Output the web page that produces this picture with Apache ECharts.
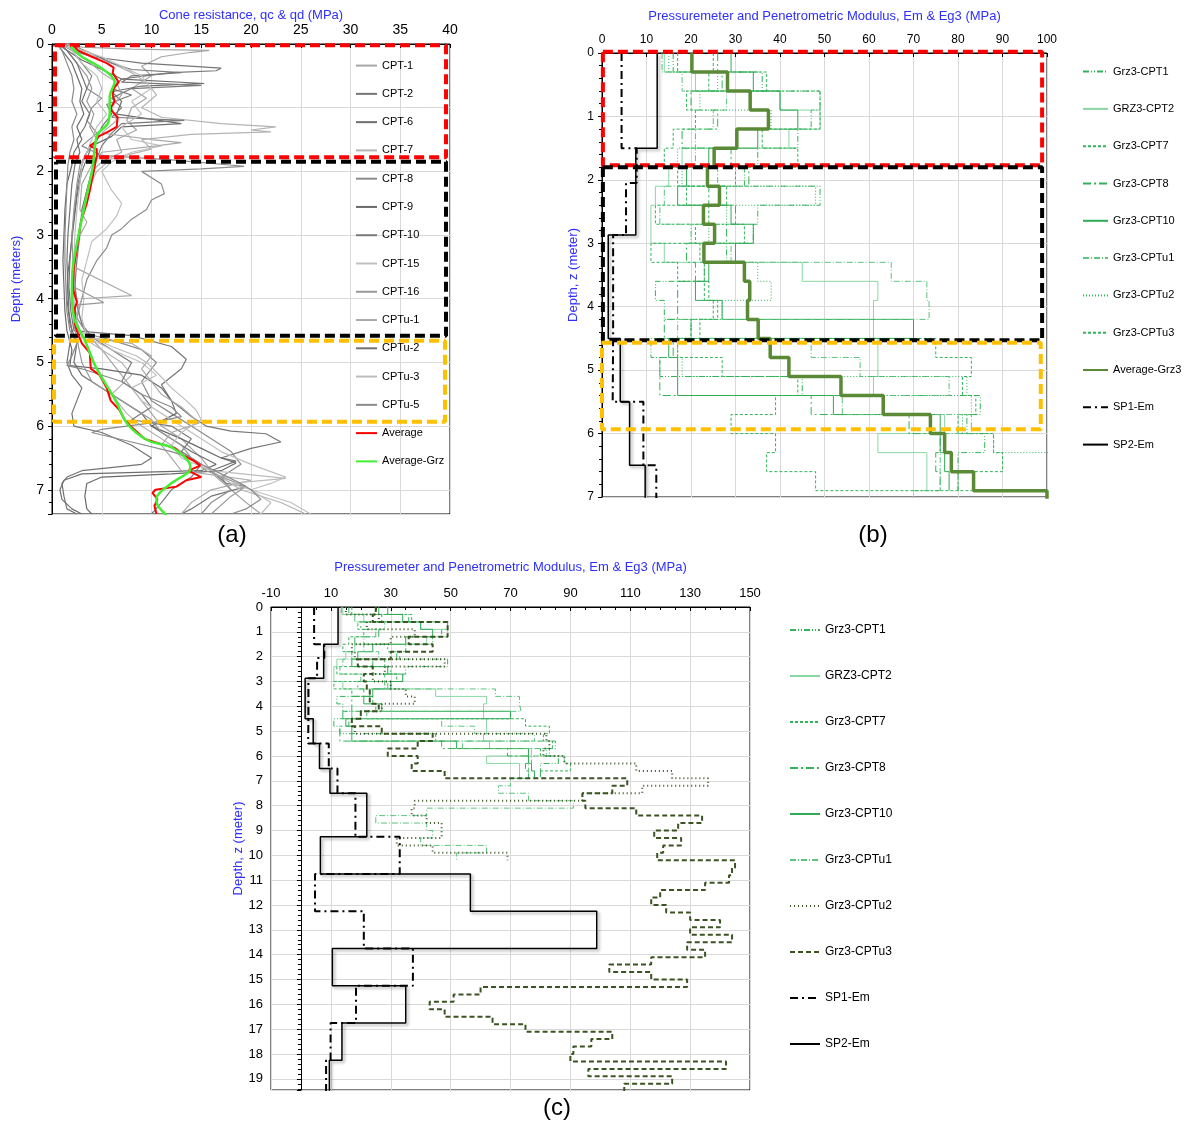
<!DOCTYPE html>
<html>
<head>
<meta charset="utf-8">
<title>CPT and pressuremeter profiles</title>
<script src="https://cdn.jsdelivr.net/npm/echarts@6/dist/echarts.min.js"></script>
<style>
  html, body { margin: 0; padding: 0; background: #fff; }
  #chart { width: 1188px; height: 1124px; }
</style>
</head>
<body>
<div id="chart"></div>
<script>
// ---- (a) cone resistance profiles, [qc MPa, depth m] ----
var cpt1  = [[1,0],[3,0.05],[8,0.08],[15.8,0.1],[14,0.13],[11,0.2],[9,0.35],[10,0.5],[8,0.7],[9.5,0.85],[8,1.0],[7.5,1.2],[8.5,1.35],[6.5,1.5],[7,1.7],[5,1.85],[4,2.0],[3.5,2.3],[3,2.7],[2.5,3.1],[2.2,3.5],[2.4,3.9],[2.8,4.3],[3.5,4.55],[5,4.8],[6.5,5.1],[8,5.4],[9.5,5.7],[11,6.0],[13,6.2],[15,6.5],[16.5,6.8],[18,7.0],[19.5,7.2],[21,7.38]];
var cpt2  = [[1,0],[2,0.1],[4,0.2],[9,0.3],[17,0.38],[16.5,0.42],[12,0.45],[7,0.55],[6,0.7],[8,0.8],[5.5,0.95],[6,1.1],[5,1.3],[4.5,1.5],[3.5,1.7],[3,1.9],[2.6,2.2],[2.3,2.6],[2,3.0],[1.8,3.4],[1.7,3.8],[1.9,4.2],[2.2,4.5],[8,4.58],[12,4.75],[13.5,4.95],[13,5.1],[11,5.35],[12,5.6],[14,5.85],[15.5,6.0],[18,6.08],[21.5,6.12],[23,6.25],[20,6.35],[17,6.5],[18.5,6.55],[16,6.7],[17.5,6.9],[19.5,6.95],[16,7.1],[14,7.3],[13,7.38]];
var cpt6  = [[0.5,0],[1.5,0.1],[3,0.25],[5,0.4],[7,0.55],[15.3,0.62],[9,0.66],[6,0.75],[7,0.9],[6.5,1.1],[13,1.25],[7,1.3],[6,1.45],[4,1.6],[3.5,1.8],[3,2.0],[2.5,2.4],[2.2,2.8],[1.9,3.2],[1.6,3.6],[1.5,4.0],[1.8,4.4],[2.5,4.7],[2.2,5.0],[3,5.2],[5,5.4],[7,5.6],[9,5.8],[10,6.0],[12,6.2],[14,6.4],[16.5,6.6],[15,6.7],[3,6.75],[1.2,6.85],[0.8,7.0],[1,7.15],[2,7.3],[3,7.38]];
var cpt7  = [[1,0],[2.5,0.1],[4.5,0.2],[6,0.3],[8,0.45],[9.5,0.6],[10.5,0.8],[9,1.0],[11,1.15],[17,1.25],[22.5,1.3],[20,1.35],[22,1.38],[14,1.42],[9,1.5],[10,1.65],[6,1.8],[4.5,2.0],[3.5,2.3],[3,2.7],[2.6,3.1],[2.3,3.5],[2.1,3.9],[2.4,4.3],[3,4.6],[5,4.8],[7,5.0],[8,5.2],[6,5.5],[7.5,5.8],[9,6.0],[11,6.2],[13,6.4],[15,6.6],[17,6.8],[19,7.0],[23,7.2],[25.5,7.38]];
var cpt8  = [[0.8,0],[2,0.1],[3,0.3],[4,0.5],[3.5,0.7],[5,0.85],[4,1.0],[3.5,1.2],[4.5,1.4],[3,1.6],[5,1.75],[12,1.82],[19.3,1.92],[15,1.96],[9,2.0],[11,2.2],[11.3,2.35],[10,2.45],[9.5,2.6],[8,2.75],[7,2.9],[6,3.0],[5.5,3.2],[4.5,3.4],[3.5,3.7],[3,4.0],[2.5,4.3],[3.5,4.55],[6,4.65],[9,4.8],[10.5,5.0],[9,5.3],[10,5.6],[12,5.8],[14,6.0],[16,6.2],[18,6.4],[19,6.6],[17,6.8],[18,7.0],[16,7.2],[15,7.38]];
var cpt9  = [[0.5,0],[1,0.1],[2,0.3],[2.5,0.5],[3,0.7],[2.8,0.9],[3.2,1.1],[2.5,1.3],[3,1.5],[2.2,1.7],[2,1.9],[1.5,2.2],[1.3,2.6],[1.2,3.0],[1.1,3.4],[1.2,3.8],[1.3,4.2],[1.5,4.5],[2,4.8],[1.8,5.05],[5,5.1],[9,5.2],[11,5.4],[12,5.6],[12.5,5.8],[10,6.0],[13,6.2],[15,6.35],[17,6.5],[18.5,6.58],[17,6.7],[12,6.75],[5,6.8],[3.5,6.9],[3.3,7.1],[3.5,7.3],[4,7.38]];
var cpt10 = [[1,0],[2.5,0.05],[4,0.15],[6,0.3],[8,0.4],[13,0.45],[8,0.5],[7,0.6],[15,0.65],[8,0.7],[6,0.85],[7,1.0],[6,1.15],[13.3,1.2],[7,1.25],[6,1.4],[5,1.6],[4.5,1.8],[4,2.0],[3.5,2.3],[3,2.6],[2.8,3.0],[2.5,3.4],[2.3,3.8],[2.5,4.1],[3,4.4],[4,4.6],[6,4.8],[8,5.0],[7,5.3],[9,5.5],[10,5.7],[8,5.9],[12,6.0],[14,6.2],[13,6.4],[15,6.6],[14,6.8],[12,7.0],[11,7.2],[10,7.38]];
var cpt15 = [[1.5,0],[3,0.1],[5,0.2],[7,0.35],[9,0.5],[10,0.7],[8,0.9],[9,1.1],[7,1.3],[8,1.5],[11,1.6],[8,1.7],[6,1.85],[5,2.0],[6,2.3],[7,2.5],[6.5,2.7],[5.5,2.9],[4,3.1],[3.5,3.4],[3,3.7],[3.2,4.0],[3,4.3],[3.5,4.6],[6,4.8],[9,5.0],[10.5,5.2],[8,5.4],[9,5.6],[11,5.8],[13,6.0],[15,6.2],[17,6.4],[20,6.6],[23.5,6.8],[22,6.9],[20,7.0],[24,7.2],[26,7.38]];
var cpt16 = [[0.5,0],[1.5,0.1],[2.5,0.3],[3.5,0.5],[4,0.7],[3.5,0.9],[4.2,1.1],[3.8,1.3],[4.5,1.5],[3.5,1.7],[2.8,1.9],[2.5,2.2],[2.2,2.6],[2,3.0],[2.1,3.4],[2,3.8],[5.2,4.06],[2.3,4.1],[2.2,4.4],[2.6,4.7],[3,5.0],[4,5.3],[6,5.5],[8,5.7],[10,5.9],[11,6.1],[13,6.3],[14,6.5],[15.5,6.7],[19.5,6.95],[18,7.1],[16,7.38]];
var cptu1 = [[1,0],[2,0.1],[3.5,0.25],[5,0.45],[6.5,0.6],[7,0.8],[6,1.0],[6.5,1.2],[5,1.4],[10,1.5],[13,1.55],[10.5,1.6],[5,1.7],[4,1.9],[3,2.2],[2.8,2.6],[3.5,2.8],[2.5,3.1],[2.2,3.5],[8,3.95],[3,4.0],[2.3,4.3],[3,4.6],[8,4.7],[10,4.9],[9,5.1],[10,5.3],[11,5.5],[13,5.7],[14.8,5.95],[12,6.1],[11,6.3],[12,6.5],[13,6.7],[20,6.85],[16,7.0],[14,7.2],[13,7.38]];
var cptu2 = [[0.8,0],[1.5,0.1],[2.5,0.3],[3,0.5],[3.5,0.7],[3,0.9],[3.8,1.1],[3.3,1.3],[2.5,1.5],[2.8,1.7],[2.3,1.9],[2,2.2],[1.8,2.6],[1.6,3.0],[1.5,3.4],[1.6,3.8],[1.7,4.2],[2,4.5],[1.7,4.8],[1.5,5.0],[2,5.2],[3,5.4],[2.5,5.6],[2,5.8],[2.2,6.0],[5,6.1],[8,6.3],[10,6.5],[9,6.6],[3,6.7],[1.5,6.8],[1,6.9],[1.2,7.1],[1.5,7.3],[2.5,7.38]];
var cptu3 = [[1,0],[2,0.1],[3,0.3],[4.5,0.5],[5,0.7],[4.5,0.9],[5.5,1.1],[4.5,1.3],[4,1.5],[3.5,1.7],[3,1.9],[2.8,2.2],[2.5,2.6],[2.3,3.0],[2.2,3.4],[2.1,3.8],[2.2,4.2],[2.6,4.5],[4,4.6],[6,4.75],[8.5,4.9],[9.5,5.0],[10.5,5.15],[12,5.4],[13.5,5.6],[14.5,5.75],[15,5.9],[13,6.1],[12,6.3],[13,6.5],[16,6.7],[23.5,6.82],[18,6.9],[20,7.0],[22,7.2],[21,7.38]];
var cptu5 = [[0.5,0],[1,0.1],[1.5,0.3],[2,0.5],[2.2,0.7],[2,0.9],[2.5,1.1],[2,1.3],[2.2,1.5],[1.8,1.7],[1.6,1.9],[1.5,2.2],[1.4,2.6],[1.3,3.0],[1.3,3.4],[1.4,3.8],[1.5,4.2],[1.8,4.5],[2.5,4.7],[2,4.9],[1.5,5.05],[3,5.1],[7,5.3],[9,5.5],[12,5.7],[13,5.85],[10,5.95],[5,6.05],[4,6.1],[8,6.25],[12,6.4],[14,6.5],[15,6.6],[17,6.75],[19,6.9],[20,7.0],[21,7.15],[19.5,7.3],[18,7.38]];
var averageA = [[2,0],[2.6,0.1],[4,0.2],[5.5,0.3],[6.2,0.37],[6.1,0.45],[6.7,0.6],[6.2,0.7],[6.1,0.8],[6.3,0.9],[5.9,1.0],[6.0,1.05],[6.6,1.15],[6.5,1.3],[5.6,1.38],[4.7,1.45],[4.3,1.55],[3.8,1.6],[4.5,1.65],[4.5,1.75],[4.2,2.0],[3.8,2.3],[3.5,2.5],[2.9,2.8],[2.7,3.0],[2.4,3.3],[2.2,3.5],[2.1,3.8],[2.2,3.9],[2.5,4.05],[2.3,4.15],[2.3,4.4],[2.5,4.5],[3.0,4.7],[3.8,4.85],[3.9,5.1],[4.8,5.2],[5.5,5.4],[5.9,5.6],[6.8,5.75],[7.3,5.9],[7.9,6.0],[9.3,6.2],[12.4,6.35],[13.1,6.45],[14.3,6.55],[14.9,6.62],[13.7,6.7],[15.0,6.8],[13.5,6.85],[12.5,6.95],[10.4,7.0],[10.1,7.05],[10.6,7.15],[10.3,7.25],[10.5,7.38]];
var averageGrz = [[1.9,0.04],[3,0.2],[4.8,0.36],[6.3,0.59],[5.8,0.83],[5.8,1.04],[5.6,1.25],[4.6,1.41],[4.3,1.62],[4.1,1.93],[3.4,2.45],[2.7,2.98],[2.1,3.5],[2.0,3.92],[2.3,4.34],[3.3,4.65],[4.4,5.07],[6.4,5.6],[7.6,5.97],[9.7,6.23],[12.1,6.34],[13.9,6.63],[13.8,6.71],[11.8,6.92],[10.5,7.13],[10.6,7.24],[11.5,7.4]];

var namesA = ['CPT-1','CPT-2','CPT-6','CPT-7','CPT-8','CPT-9','CPT-10','CPT-15','CPT-16','CPTu-1','CPTu-2','CPTu-3','CPTu-5'];
var greysA = ['#a6a6a6','#767676','#6e6e6e','#b4b4b4','#8c8c8c','#6a6a6a','#7a7a7a','#c0c0c0','#999999','#aaaaaa','#737373','#bdbdbd','#8a8a8a'];
var profilesA = [cpt1, cpt2, cpt6, cpt7, cpt8, cpt9, cpt10, cpt15, cpt16, cptu1, cptu2, cptu3, cptu5];

// layer boxes: [x0, x1, depth top, depth bottom]
var boxesA = [[0.3, 39.6, 0.02, 1.78], [0.4, 39.6, 1.85, 4.58], [0.2, 39.5, 4.66, 5.93]];
var boxesB = [[0.2, 98.9, -0.02, 1.77], [0.2, 98.9, 1.8, 4.53], [0, 98.6, 4.57, 5.93]];
var boxColors = ['#ff0000', '#000000', '#ffc000'];

// ---- (b) and (c) moduli, one value per 0.3 m layer ----
var DEPTHS = [0,0.3,0.6,0.9,1.2,1.5,1.8,2.1,2.4,2.7,3.0,3.3,3.6,3.9,4.2,4.5,4.8,5.1,5.4,5.7,6.0,6.3,6.6,6.9,7.2,7.5,7.8,8.1,8.4,8.7,9.0,9.3,9.6,9.9,10.2,10.5,10.8,11.1,11.4,11.7,12.0,12.3,12.6,12.9,13.2,13.5,13.8,14.1,14.4,14.7,15.0,15.3,15.6,15.9,16.2,16.5,16.8,17.1,17.4,17.7,18.0,18.3,18.6,18.9,19.2,19.5];
var grzCPT1  = [16,36,49,47,44,35,32,49,35,34,28,23,12,14,20,11,13,45,85,82,86,80,80];
var grzCPT2  = [14,21,40,49,42,18,15,12,11,11,14,45,62,61,61,62,62,61,63,77,62,73,73];
var grzCPT7  = [17,37,19,21,16,14,17,28,12,32,11,17,24,25,22,75,83,81,84,80,88,90,80];
var grzCPT8  = [26,27,20,26,18,29,33,24,30,28,19,21,17,17,14,16,13,13,47,69,76,75,76];
var grzCPT10 = [29,34,40,44,35,24,19,17,29,34,30,24,21,27,70,15,17,17,52,76,76,77,78];
var grzCPTu1 = [13.5,18,28,25,21,21,26,14,13,20,29,65,73,73.5,17,47,58,78,54,83,77,76,76,70,66,76,91,42,25,42,44,40,62,52];
var grzCPTu2 = [15,26,22,38,30,17,18,48,28,24,30,35,38,27,20,17,18,82,83,81,88,112,124,136,114,94,38,37,42,47,47,32,44,69];
var grzCPTu3 = [25,24,49,49,36,44,30,19,24,21,22,23,23,26,20,17,27,44,39,29,39,37,48,109,104,94,95,112,134,126,118,127,121,119,145,144,143,135,120,117,122,130,140,130,144,129,135,117,103,117,129,60,51,43,48,64,75,104,97,91,90,142,96,124,108];
var avgGrz3  = [20.2,28.2,33.3,37.4,30.3,25.2,23.7,26.4,22.8,25.3,22.9,32.0,33.2,32.7,35.1,37.8,42.0,53.7,63.2,73.8,77.0,78.5,83.5,100];

var SP_DEPTHS = [0,1.5,2.05,2.87,4.5,5.5,6.5,7.5,9.25,10.75,12.25,13.75,15.25,16.75,18.25,19.5];
var sp1Em = [4.4,7.8,5.4,2.5,2.4,9.3,12.2,18.2,33,4.7,21,37.4,18.4,9.9,8.4];
var sp2Em = [12.4,7.6,7.6,1.4,4.1,6.2,9.7,22,6.5,56.6,98.8,10.5,35,13.7,9.5];

var FONT = 'Liberation Sans, Arial, sans-serif';
var BLUE = '#2f2fff';
var GREEN = '#33b35a';
var DARK = '#3b5323';

function stepPoints(depths, values) {
    var pts = [];
    for (var i = 0; i < values.length; i++) {
        pts.push([values[i], depths[i]], [values[i], depths[i + 1]]);
    }
    return pts;
}

function boxPoints(b) {
    return [[b[0], b[2]], [b[1], b[2]], [b[1], b[3]], [b[0], b[3]], [b[0], b[2]]];
}

function line(name, idx, data, color, width, type, z, extra) {
    var s = {
        name: name, type: 'line', xAxisIndex: idx, yAxisIndex: idx,
        data: data, symbol: 'none', showSymbol: false, z: z || 2,
        lineStyle: { color: color, width: width, type: type || 'solid' },
        itemStyle: { color: color }
    };
    if (extra) { for (var k in extra) { s[k] = extra[k]; } }
    return s;
}

var grzStyles = [
    ['Grz3-CPT1',  grzCPT1,  GREEN,     [6, 2, 1, 2, 1, 2]],
    ['GRZ3-CPT2',  grzCPT2,  '#8ad7a4', 'solid'],
    ['Grz3-CPT7',  grzCPT7,  GREEN,     [3, 2]],
    ['Grz3-CPT8',  grzCPT8,  GREEN,     [8, 3, 2, 3]],
    ['Grz3-CPT10', grzCPT10, '#2faa55', 'solid'],
    ['Grz3-CPTu1', grzCPTu1, '#5cc47f', [6, 2, 1, 2]],
    ['Grz3-CPTu2', grzCPTu2, GREEN,     [1, 2]],
    ['Grz3-CPTu3', grzCPTu3, GREEN,     [3, 2]]
];

var spShadow = { color: '#000', width: 1.5, shadowBlur: 3, shadowColor: 'rgba(0,0,0,0.35)', shadowOffsetX: 2, shadowOffsetY: 2 };

var series = [];
// panel (a)
for (var i = 0; i < profilesA.length; i++) {
    series.push(line(namesA[i], 0, profilesA[i], greysA[i], 1.2, 'solid', 2));
}
series.push(line('Average', 0, averageA, '#ff0000', 2, 'solid', 4));
series.push(line('Average-Grz', 0, averageGrz, '#44ee33', 2.5, 'solid', 5, { smooth: 0.3 }));
boxesA.forEach(function (b, j) {
    series.push(line('boxA' + j, 0, boxPoints(b), boxColors[j], 4, [10, 5], 3, { clip: false, silent: true }));
});

// panel (b)
grzStyles.forEach(function (g) {
    series.push(line(g[0], 1, stepPoints(DEPTHS, g[1]), g[2], 1, g[3], 2));
});
series.push(line('Average-Grz3', 1, stepPoints(DEPTHS, avgGrz3), '#5a8a35', 3.5, 'solid', 4));
series.push(line('SP1-Em', 1, stepPoints(SP_DEPTHS, sp1Em), '#000', 2, [8, 4, 2, 4], 4));
series.push(line('SP2-Em', 1, stepPoints(SP_DEPTHS, sp2Em), '#000', 1.5, 'solid', 4, { lineStyle: spShadow }));
boxesB.forEach(function (b, j) {
    series.push(line('boxB' + j, 1, boxPoints(b), boxColors[j], 4, [10, 5], 5, { clip: false, silent: true }));
});

// panel (c): same series, names end with a space so the legends stay apart
grzStyles.forEach(function (g, j) {
    var col = g[2], w = 1, t = g[3];
    if (j === 6) { col = DARK; w = 2; t = [1, 3]; }
    if (j === 7) { col = DARK; w = 2; t = [5, 3]; }
    series.push(line(g[0] + ' ', 2, stepPoints(DEPTHS, g[1]), col, w, t, j >= 6 ? 3 : 2));
});
series.push(line('SP1-Em ', 2, stepPoints(SP_DEPTHS, sp1Em), '#000', 2, [8, 4, 2, 4], 4));
series.push(line('SP2-Em ', 2, stepPoints(SP_DEPTHS, sp2Em), '#000', 1.5, 'solid', 4, { lineStyle: spShadow }));

function xAxis(idx, min, max, interval, name, nameGap, fontSize) {
    return {
        gridIndex: idx, type: 'value', position: 'top', min: min, max: max, interval: interval,
        name: name, nameLocation: 'middle', nameGap: nameGap,
        nameTextStyle: { color: BLUE, fontSize: 13, fontFamily: FONT },
        axisLine: { onZero: false, lineStyle: { color: '#000' } },
        axisTick: { inside: true, length: 4, lineStyle: { color: '#000' } },
        minorTick: { show: idx === 2, splitNumber: 4, length: 3, lineStyle: { color: '#000' } },
        axisLabel: { color: '#000', fontSize: fontSize, fontFamily: FONT, margin: 7 },
        splitLine: { show: true, lineStyle: { color: '#d9d9d9' } }
    };
}

function yAxis(idx, max, name, nameGap, fontSize, onZero, showMax) {
    return {
        gridIndex: idx, type: 'value', inverse: true, min: 0, max: max, interval: 1,
        name: name, nameLocation: 'middle', nameGap: nameGap,
        nameTextStyle: { color: BLUE, fontSize: 13, fontFamily: FONT },
        axisLine: { onZero: onZero, lineStyle: { color: '#000' } },
        axisTick: { length: 4, lineStyle: { color: '#000' } },
        minorTick: { show: true, splitNumber: 5, length: 3, lineStyle: { color: '#000' } },
        axisLabel: { color: '#000', fontSize: fontSize, fontFamily: FONT, margin: 8, showMaxLabel: showMax },
        splitLine: { show: true, lineStyle: { color: '#d9d9d9' } }
    };
}

function legend(names, left, top, itemWidth, itemGap, fontSize) {
    return {
        data: names, orient: 'vertical', left: left, top: top,
        itemWidth: itemWidth, itemHeight: 14, itemGap: itemGap, selectedMode: false,
        itemStyle: { opacity: 0 },
        textStyle: { color: '#000', fontSize: fontSize, fontFamily: FONT }
    };
}

var gridBase = { show: true, borderColor: '#000', borderWidth: 1, backgroundColor: 'transparent', containLabel: false, outerBoundsMode: 'none' };

var option = {
    animation: false,
    backgroundColor: '#fff',
    textStyle: { fontFamily: FONT },
    grid: [
        Object.assign({ left: 52, top: 44, width: 398, height: 470 }, gridBase),
        Object.assign({ left: 602, top: 53, width: 445, height: 444 }, gridBase),
        Object.assign({ left: 271, top: 607, width: 479, height: 483 }, gridBase)
    ],
    xAxis: [
        xAxis(0, 0, 40, 5, 'Cone resistance, qc & qd (MPa)', 22, 14),
        xAxis(1, 0, 100, 10, 'Pressuremeter and Penetrometric Modulus, Em & Eg3 (MPa)', 30, 12),
        xAxis(2, -10, 150, 20, 'Pressuremeter and Penetrometric Modulus, Em & Eg3 (MPa)', 33, 13)
    ],
    yAxis: [
        yAxis(0, 7.38, 'Depth (meters)', 29, 14, false, false),
        yAxis(1, 7, 'Depth, z (meter)', 22, 12, false, true),
        yAxis(2, 19.45, 'Depth, z (meter)', 26, 13, true, false)
    ],
    legend: [
        legend(namesA.concat(['Average', 'Average-Grz']), 350, 55, 21, 17.07, 11),
        legend(grzStyles.map(function (g) { return g[0]; }).concat(['Average-Grz3', 'SP1-Em', 'SP2-Em']), 1077, 61, 25, 26.1, 11),
        legend(grzStyles.map(function (g) { return g[0] + ' '; }).concat(['SP1-Em ', 'SP2-Em ']), 784, 619, 30, 34, 12)
    ],
    graphic: [
        { type: 'text', x: 232, y: 535, style: { text: '(a)', font: '24px ' + FONT, fill: '#000', align: 'center', verticalAlign: 'middle' } },
        { type: 'text', x: 873, y: 535, style: { text: '(b)', font: '24px ' + FONT, fill: '#000', align: 'center', verticalAlign: 'middle' } },
        { type: 'text', x: 557, y: 1108, style: { text: '(c)', font: '24px ' + FONT, fill: '#000', align: 'center', verticalAlign: 'middle' } }
    ],
    series: series
};

var chart = echarts.init(document.getElementById('chart'));
chart.setOption(option);
</script>
</body>
</html>
